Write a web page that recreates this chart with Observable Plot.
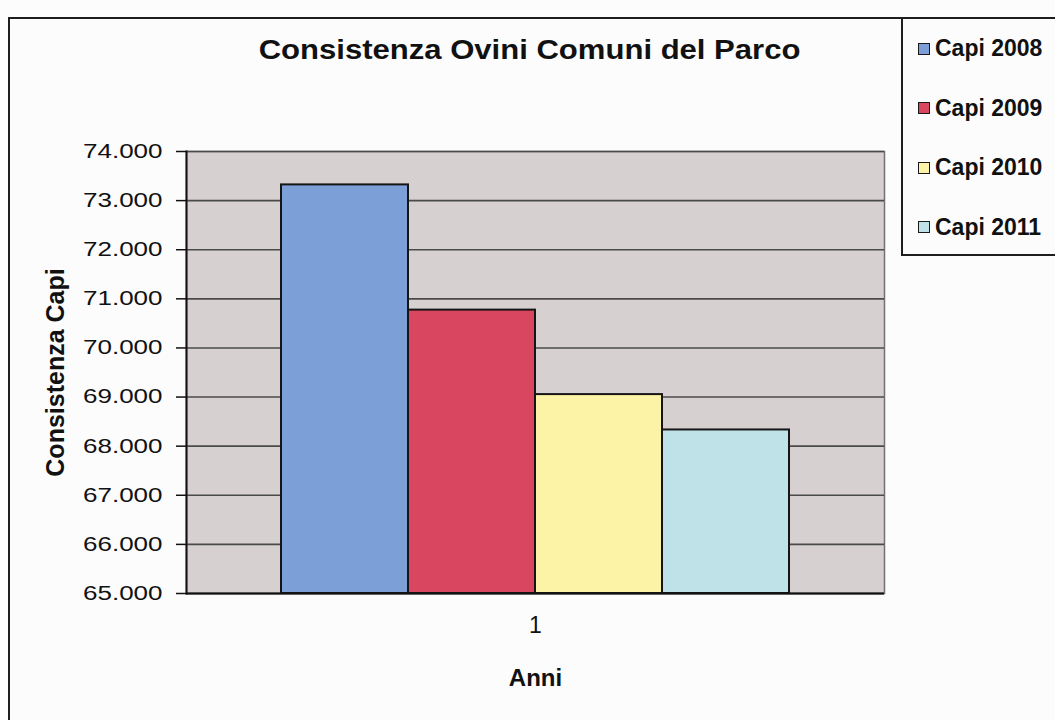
<!DOCTYPE html>
<html>
<head>
<meta charset="utf-8">
<script src="https://cdn.jsdelivr.net/npm/d3@7"></script>
<script src="https://cdn.jsdelivr.net/npm/@observablehq/plot@0.6"></script>
<style>
  html, body { margin: 0; padding: 0; background: #fcfcfc; overflow: hidden; }
  #wrap { position: relative; width: 1055px; height: 720px; overflow: hidden; font-family: "Liberation Sans", Arial, sans-serif; }
  #outer { position: absolute; left: 8px; top: 17px; width: 1100px; height: 800px; border: 2px solid #1e1e1e; box-sizing: border-box; }
  #title { position: absolute; left: 0; width: 1060px; top: 35px; line-height: 30px; text-align: center; font-weight: bold; font-size: 27px; color: #111; }
  #title span { display: inline-block; transform: scaleX(1.15); }
  #legend { position: absolute; left: 901px; top: 17px; width: 200px; height: 239px; border: 2px solid #1e1e1e; box-sizing: border-box; background: #fcfcfc; padding-top: 0px; }
  .row { height: 59.5px; display: flex; align-items: center; font-weight: bold; font-size: 23px; color: #111; }
  .sw { width: 12px; height: 12px; border: 1.5px solid #1a1a1a; margin-left: 15px; margin-right: 5px; box-sizing: border-box; }
  svg { position: absolute; left: 0; top: 0; }
  svg [aria-label="y-axis label"], svg [aria-label="fx-axis label"] { font-weight: bold; }
</style>
</head>
<body>
<div id="wrap">
  <div id="outer"></div>
  <div id="title"><span>Consistenza Ovini Comuni del Parco</span></div>
  <div id="legend"></div>
</div>
<script>
const groups = ["1"];
const series = ["Capi 2008", "Capi 2009", "Capi 2010", "Capi 2011"];
const values = [73320, 70770, 69050, 68330];
const colors = ["#7c9fd8", "#d8465f", "#fdf3a6", "#bfe2e8"];
const yTicks = [65000, 66000, 67000, 68000, 69000, 70000, 71000, 72000, 73000, 74000];
const yMin = 65000, yMax = 74000;
const titleText = "Consistenza Ovini Comuni del Parco";
const yLabel = "Consistenza Capi";
const xLabel = "Anni";

const data = series.map((s, i) => ({group: groups[0], series: s, value: values[i]}));
const itFmt = d3.formatLocale({decimal: ",", thousands: ".", grouping: [3], currency: ["€", ""]}).format(",");

const chart = Plot.plot({
  width: 1055,
  height: 720,
  marginLeft: 186,
  marginRight: 171,
  marginTop: 151,
  marginBottom: 127,
  style: {background: "transparent", fontFamily: "'Liberation Sans', Arial, sans-serif", fontSize: "20px", color: "#111"},
  fx: {domain: groups, padding: 0},
  x: {domain: series, paddingInner: 0, paddingOuter: 0.743, axis: null},
  y: {domain: [yMin, yMax]},
  color: {domain: series, range: colors},
  marks: [
    Plot.frame({fill: "#d6d0d1", stroke: "#707070", strokeWidth: 1.5}),
    Plot.gridY(yTicks, {stroke: "#4a4a4a", strokeOpacity: 1, strokeWidth: 1.6}),
    Plot.barY(data, {fx: "group", x: "series", y1: () => yMin, y2: "value", fill: "series", stroke: "#151515", strokeWidth: 2}),
    Plot.ruleY([yMin], {stroke: "#111", strokeWidth: 2}),
    Plot.frame({anchor: "left", stroke: "#111", strokeWidth: 2}),
    Plot.axisY(yTicks, {tickFormat: itFmt, tickSize: 10, tickPadding: 14, stroke: "#111", strokeWidth: 1.5,
      label: yLabel, labelAnchor: "center", labelOffset: 140, labelArrow: "none", fontSize: 20}),
    Plot.axisFx({anchor: "bottom", tickSize: 0, tickPadding: 23, label: xLabel, labelAnchor: "center", labelOffset: 92, labelArrow: "none", fontSize: 23})
  ]
});
document.getElementById("wrap").appendChild(chart);

chart.querySelectorAll('[aria-label="y-axis label"]').forEach(g => g.setAttribute("font-size", "25"));
chart.querySelectorAll('[aria-label="fx-axis label"]').forEach(g => g.setAttribute("font-size", "24"));
// horizontal stretch of tick labels to match the scanned reference
chart.querySelectorAll('[aria-label="y-axis tick label"] text').forEach(t => {
  const w = t.getComputedTextLength();
  t.setAttribute("textLength", (w * 1.3).toFixed(1));
  t.setAttribute("lengthAdjust", "spacingAndGlyphs");
});

const legend = d3.select("#legend");
series.forEach((s, i) => {
  const row = legend.append("div").attr("class", "row");
  row.append("div").attr("class", "sw").style("background", colors[i]);
  row.append("span").text(s);
});
</script>
</body>
</html>
